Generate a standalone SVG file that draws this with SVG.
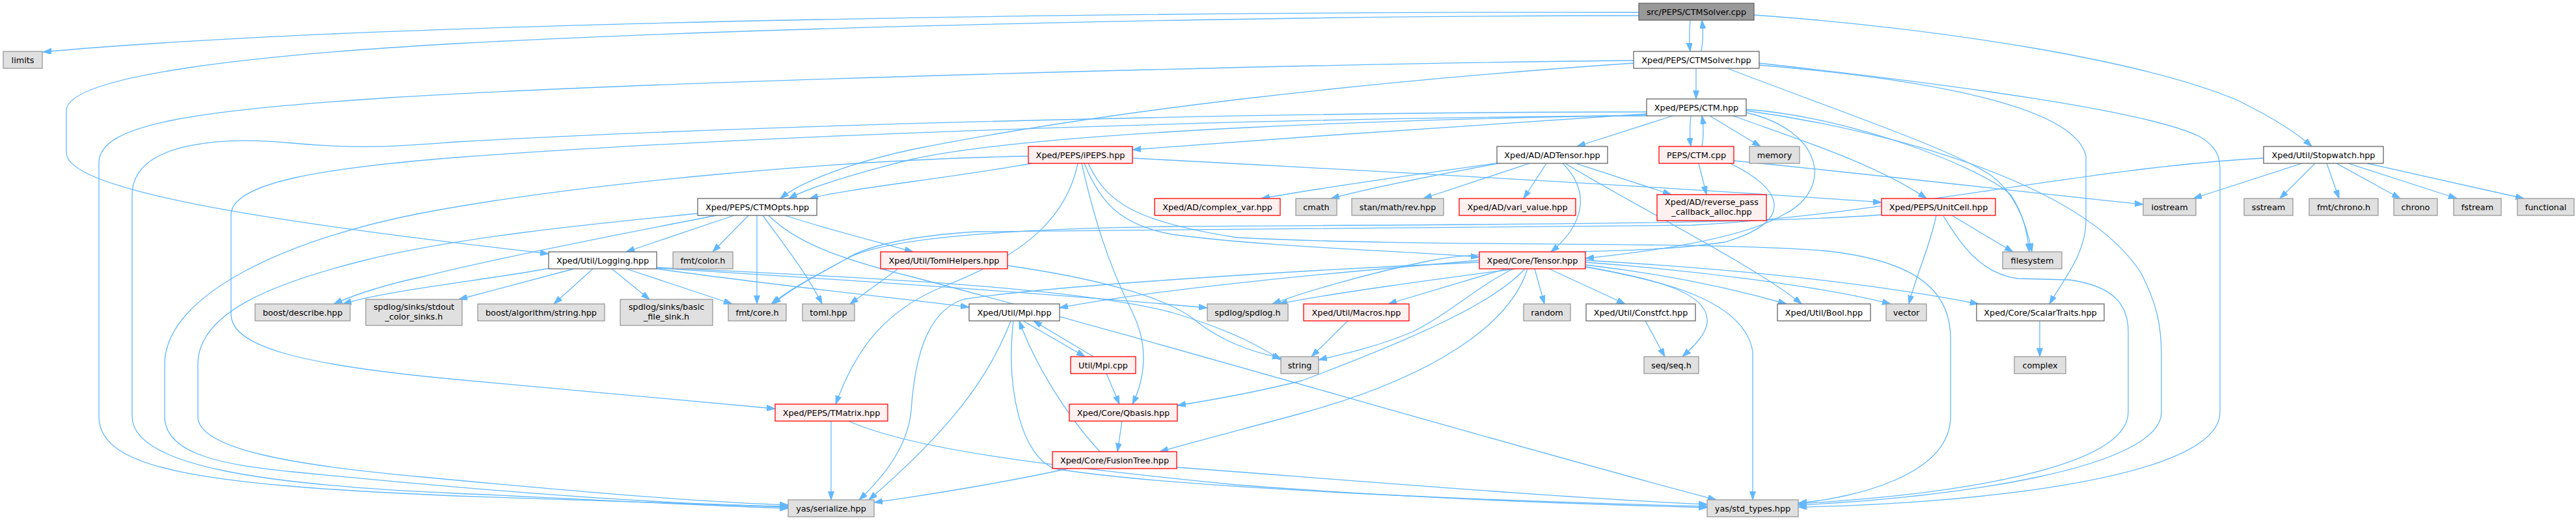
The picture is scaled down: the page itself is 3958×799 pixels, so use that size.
<svg xmlns="http://www.w3.org/2000/svg" width="3958" height="799" viewBox="0 0 3958 799">
<style>
.e{fill:none;stroke:#63b8ff;stroke-width:1.3;marker-end:url(#ah)}
.b rect{stroke-width:1.3}
.n rect{fill:#ffffff;stroke:#666666}
.c rect{fill:#999999;stroke:#666666}
.x rect{fill:#e0e0e0;stroke:#999999}
.t rect{fill:#fff0f0;stroke:#ff0000}
text{font-family:"DejaVu Sans","Liberation Sans",sans-serif;font-size:12.8px;fill:#000000;text-anchor:middle}
</style>
<defs>
<marker id="ah" markerUnits="userSpaceOnUse" markerWidth="14" markerHeight="10" refX="13" refY="4.5" orient="auto">
<path d="M0,0 L13,4.5 L0,9 z" fill="#63b8ff" stroke="#63b8ff" stroke-width="1"/>
</marker>
</defs>
<rect width="3958" height="799" fill="#ffffff"/>
<g id="edges">
<path class="e" d="M2518,19 C1900,17 600,30 66,80"/>
<path class="e" d="M2518,24 C2000,24 1200,40 700,67 C400,84 102,115 102,170 L102,235 C102,300 500,350 843,390"/>
<path class="e" d="M2597,31 C2595,50 2595,60 2597,79"/>
<path class="e" d="M2614,79 C2617,60 2617,50 2615,31"/>
<path class="e" d="M2695,23 C3000,45 3300,95 3440,155 C3490,180 3530,205 3552,225"/>
<path class="e" d="M2606,105 L2606,152"/>
<path class="e" d="M2510,97 C2100,125 1700,170 1400,230 C1300,252 1230,280 1199,305"/>
<path class="e" d="M2510,93 C2000,98 1000,125 600,150 C300,170 152,190 152,250 L152,640 C152,720 300,745 700,762 C900,770 1100,775 1211,779"/>
<path class="e" d="M2654,105 C2850,180 3000,230 3060,270 C3100,300 3115,350 3122,387"/>
<path class="e" d="M2703,100 C3000,125 3190,170 3205,240 L3205,340 C3205,390 3170,430 3149,467"/>
<path class="e" d="M2703,97 C3000,130 3300,170 3380,210 C3405,225 3411,240 3411,260 L3411,633 C3411,740 3000,775 2763,779"/>
<path class="e" d="M2570,178 L2423,225"/>
<path class="e" d="M2598,178 C2596,195 2596,210 2598,225"/>
<path class="e" d="M2615,225 C2618,208 2618,195 2615,178"/>
<path class="e" d="M2627,178 L2705,225"/>
<path class="e" d="M2530,175 C2300,190 2000,210 1740,230"/>
<path class="e" d="M2530,177 C2200,182 1600,200 1400,245 C1320,265 1250,285 1212,305"/>
<path class="e" d="M2663,178 C2750,210 2880,250 2960,305"/>
<path class="e" d="M2683,168 C2850,180 3050,260 3090,300 C3110,330 3115,360 3118,387"/>
<path class="e" d="M2683,173 C2800,200 2820,290 2740,330 C2680,365 2550,385 2436,397"/>
<path class="e" d="M2683,170 C2900,200 3200,280 3290,420 C3315,470 3321,500 3321,550 L3321,633 C3321,720 3000,765 2763,776"/>
<path class="e" d="M2530,172 C2000,172 1200,190 700,218 C620,224 560,230 450,220 C350,210 203,215 203,300 L203,640 C203,715 400,745 700,758 C900,767 1100,778 1211,781"/>
<path class="e" d="M2530,178 C2000,180 1200,205 700,242 C500,258 355,280 355,330 L355,483 C355,530 450,560 700,583 C900,602 1100,620 1191,628"/>
<path class="e" d="M2305,250 C2200,265 2050,285 1938,305"/>
<path class="e" d="M2303,251 C2200,270 2100,290 2045,305"/>
<path class="e" d="M2350,251 L2187,305"/>
<path class="e" d="M2376,251 L2341,305"/>
<path class="e" d="M2421,251 L2568,299"/>
<path class="e" d="M2401,251 C2440,290 2440,340 2383,387"/>
<path class="e" d="M2405,251 C2500,310 2700,410 2768,467"/>
<path class="e" d="M2610,251 L2622,299"/>
<path class="e" d="M2664,247 C2900,270 3150,300 3293,314"/>
<path class="e" d="M2658,251 C2740,290 2760,340 2650,372 C2500,395 2300,380 2200,400 C2100,420 2000,450 1955,467"/>
<path class="e" d="M3537,251 L3370,305"/>
<path class="e" d="M3557,251 L3503,305"/>
<path class="e" d="M3575,251 L3594,305"/>
<path class="e" d="M3590,251 L3688,305"/>
<path class="e" d="M3608,251 L3775,305"/>
<path class="e" d="M3637,251 L3878,305"/>
<path class="e" d="M3478,243 C3200,258 2900,330 2600,346 C2200,352 1800,350 1500,356 C1400,362 1330,378 1300,398 C1260,420 1222,440 1187,467"/>
<path class="e" d="M2999,331 L3093,387"/>
<path class="e" d="M2975,331 C2965,380 2945,420 2933,467"/>
<path class="e" d="M2986,332 C3010,370 3040,420 3100,428 L3180,430 C3250,440 3270,470 3270,510 L3270,633 C3270,720 3000,760 2763,774"/>
<path class="e" d="M2891,330 C2700,345 2200,345 1800,348 C1500,352 1350,370 1300,398 C1260,420 1220,440 1185,467"/>
<path class="e" d="M1580,240 C1300,245 900,280 650,327 C450,365 253,450 253,560 L253,640 C253,700 350,715 450,725 C700,750 1000,775 1211,778"/>
<path class="e" d="M1586,251 C1450,275 1300,290 1244,305"/>
<path class="e" d="M1740,243 C2100,262 2600,290 2891,311"/>
<path class="e" d="M1666,251 C1690,310 1720,345 1800,360 C1950,380 2150,385 2273,395"/>
<path class="e" d="M1672,251 C1700,310 1740,340 1900,365 C2200,380 2600,370 2800,385 C2950,400 2997,450 2997,520 L2997,640 C2997,730 2850,765 2763,773"/>
<path class="e" d="M1662,251 C1680,330 1700,400 1740,480 C1765,530 1760,580 1740,621"/>
<path class="e" d="M1656,251 C1640,330 1580,390 1450,440 C1350,480 1310,550 1284,621"/>
<path class="e" d="M1128,331 L962,387"/>
<path class="e" d="M1150,331 L1095,387"/>
<path class="e" d="M1163,331 L1163,467"/>
<path class="e" d="M1172,331 C1200,370 1240,420 1263,467"/>
<path class="e" d="M1206,331 C1280,355 1350,372 1403,387"/>
<path class="e" d="M1101,331 C950,360 750,400 650,425 C580,440 540,455 513,467"/>
<path class="e" d="M1181,331 C1220,370 1280,395 1400,425 C1800,530 2300,680 2637,768"/>
<path class="e" d="M1072,328 C900,345 700,365 560,400 C420,435 304,480 304,560 L304,640 C304,690 450,715 650,733 C850,752 1050,770 1211,776"/>
<path class="e" d="M845,412 C750,430 600,445 527,467"/>
<path class="e" d="M882,413 L705,460"/>
<path class="e" d="M911,413 L851,467"/>
<path class="e" d="M940,413 L998,460"/>
<path class="e" d="M962,413 L1125,467"/>
<path class="e" d="M1009,413 C1200,440 1400,460 1489,472"/>
<path class="e" d="M1009,412 C1300,430 1600,450 1855,473"/>
<path class="e" d="M1009,411 C1300,425 1650,440 1800,480 C1900,510 1940,535 1968,553"/>
<path class="e" d="M1380,413 L1306,467"/>
<path class="e" d="M1548,408 C1700,430 1800,460 1840,495 C1880,525 1920,540 1968,550"/>
<path class="e" d="M2314,413 L2133,467"/>
<path class="e" d="M2329,413 C2200,430 2050,450 1965,467"/>
<path class="e" d="M2325,413 C2270,440 2230,480 2170,510 C2110,535 2060,545 2026,553"/>
<path class="e" d="M2358,413 L2373,467"/>
<path class="e" d="M2380,413 L2497,467"/>
<path class="e" d="M2436,410 C2550,430 2620,450 2623,490 C2625,510 2605,530 2585,548"/>
<path class="e" d="M2436,407 C2550,420 2650,440 2745,467"/>
<path class="e" d="M2436,403 C2600,415 2800,440 2905,467"/>
<path class="e" d="M2436,400 C2700,415 2900,440 3040,467"/>
<path class="e" d="M2436,410 C2550,430 2680,460 2693,540 L2693,768"/>
<path class="e" d="M2343,413 C2300,460 2200,510 2000,585 C1920,605 1860,615 1809,623"/>
<path class="e" d="M2347,413 C2320,500 2200,580 2000,635 C1900,662 1830,680 1782,694"/>
<path class="e" d="M2273,400 C2100,415 1800,440 1628,473"/>
<path class="e" d="M2273,403 C2000,415 1600,440 1480,460 C1420,480 1405,560 1400,630 C1395,690 1350,740 1320,768"/>
<path class="e" d="M1572,493 L1667,548"/>
<path class="e" d="M1680,548 L1588,493"/>
<path class="e" d="M1553,493 C1520,580 1460,660 1335,768"/>
<path class="e" d="M1557,493 C1545,600 1570,700 1620,720 C1800,750 2300,770 2623,778"/>
<path class="e" d="M1700,574 L1720,621"/>
<path class="e" d="M1724,647 L1717,694"/>
<path class="e" d="M1690,694 C1640,640 1590,560 1566,493"/>
<path class="e" d="M1641,720 C1550,740 1430,760 1343,772"/>
<path class="e" d="M1808,718 C2100,740 2400,765 2623,775"/>
<path class="e" d="M1277,647 L1277,768"/>
<path class="e" d="M1304,647 C1400,690 1600,715 1900,745 C2200,768 2450,775 2623,780"/>
<path class="e" d="M2071,493 L2015,548"/>
<path class="e" d="M2528,493 L2558,548"/>
<path class="e" d="M3134,493 L3134,548"/>
</g>
<g id="node-ctmsolver-cpp" class="b c"><rect x="2518" y="5" width="177" height="26"/><text x="2606.5" y="22.5">src/PEPS/CTMSolver.cpp</text></g>
<g id="node-limits" class="b x"><rect x="5" y="79" width="60" height="26"/><text x="35" y="96.5">limits</text></g>
<g id="node-ctmsolver-hpp" class="b n"><rect x="2510" y="79" width="193" height="26"/><text x="2606.5" y="96.5">Xped/PEPS/CTMSolver.hpp</text></g>
<g id="node-ctm-hpp" class="b n"><rect x="2530" y="152" width="153" height="26"/><text x="2606.5" y="169.5">Xped/PEPS/CTM.hpp</text></g>
<g id="node-adtensor" class="b n"><rect x="2300" y="225" width="170" height="26"/><text x="2385" y="242.5">Xped/AD/ADTensor.hpp</text></g>
<g id="node-ipeps" class="b t"><rect x="1580" y="225" width="160" height="26"/><text x="1660" y="242.5">Xped/PEPS/iPEPS.hpp</text></g>
<g id="node-ctm-cpp" class="b t"><rect x="2549" y="225" width="115" height="26"/><text x="2606.5" y="242.5">PEPS/CTM.cpp</text></g>
<g id="node-memory" class="b x"><rect x="2688" y="225" width="77" height="26"/><text x="2726.5" y="242.5">memory</text></g>
<g id="node-stopwatch" class="b n"><rect x="3478" y="225" width="184" height="26"/><text x="3570" y="242.5">Xped/Util/Stopwatch.hpp</text></g>
<g id="node-ctmopts" class="b n"><rect x="1072" y="305" width="183" height="26"/><text x="1163.5" y="322.5">Xped/PEPS/CTMOpts.hpp</text></g>
<g id="node-complexvar" class="b t"><rect x="1774" y="305" width="193" height="26"/><text x="1870.5" y="322.5">Xped/AD/complex_var.hpp</text></g>
<g id="node-cmath" class="b x"><rect x="1991" y="305" width="63" height="26"/><text x="2022.5" y="322.5">cmath</text></g>
<g id="node-stan" class="b x"><rect x="2077" y="305" width="141" height="26"/><text x="2147.5" y="322.5">stan/math/rev.hpp</text></g>
<g id="node-varivalue" class="b t"><rect x="2242" y="305" width="179" height="26"/><text x="2331.5" y="322.5">Xped/AD/vari_value.hpp</text></g>
<g id="node-revpass" class="b t"><rect x="2546" y="299" width="168" height="40"/><text x="2630" y="315">Xped/AD/reverse_pass</text><text x="2630" y="330">_callback_alloc.hpp</text></g>
<g id="node-unitcell" class="b t"><rect x="2891" y="305" width="175" height="26"/><text x="2978.5" y="322.5">Xped/PEPS/UnitCell.hpp</text></g>
<g id="node-iostream" class="b x"><rect x="3293" y="305" width="81" height="26"/><text x="3333.5" y="322.5">iostream</text></g>
<g id="node-sstream" class="b x"><rect x="3448" y="305" width="75" height="26"/><text x="3485.5" y="322.5">sstream</text></g>
<g id="node-fmtchrono" class="b x"><rect x="3548" y="305" width="106" height="26"/><text x="3601" y="322.5">fmt/chrono.h</text></g>
<g id="node-chrono" class="b x"><rect x="3678" y="305" width="67" height="26"/><text x="3711.5" y="322.5">chrono</text></g>
<g id="node-fstream" class="b x"><rect x="3770" y="305" width="73" height="26"/><text x="3806.5" y="322.5">fstream</text></g>
<g id="node-functional" class="b x"><rect x="3868" y="305" width="87" height="26"/><text x="3911.5" y="322.5">functional</text></g>
<g id="node-logging" class="b n"><rect x="843" y="387" width="166" height="26"/><text x="926" y="404.5">Xped/Util/Logging.hpp</text></g>
<g id="node-fmtcolor" class="b x"><rect x="1034" y="387" width="92" height="26"/><text x="1080" y="404.5">fmt/color.h</text></g>
<g id="node-tomlhelpers" class="b t"><rect x="1353" y="387" width="195" height="26"/><text x="1450.5" y="404.5">Xped/Util/TomlHelpers.hpp</text></g>
<g id="node-tensor" class="b t"><rect x="2273" y="387" width="163" height="26"/><text x="2354.5" y="404.5">Xped/Core/Tensor.hpp</text></g>
<g id="node-filesystem" class="b x"><rect x="3077" y="387" width="91" height="26"/><text x="3122.5" y="404.5">filesystem</text></g>
<g id="node-describe" class="b x"><rect x="392" y="467" width="146" height="26"/><text x="465" y="484.5">boost/describe.hpp</text></g>
<g id="node-stdoutsinks" class="b x"><rect x="562" y="460" width="148" height="40"/><text x="636" y="476">spdlog/sinks/stdout</text><text x="636" y="491">_color_sinks.h</text></g>
<g id="node-algstring" class="b x"><rect x="734" y="467" width="195" height="26"/><text x="831.5" y="484.5">boost/algorithm/string.hpp</text></g>
<g id="node-basicfile" class="b x"><rect x="953" y="460" width="142" height="40"/><text x="1024" y="476">spdlog/sinks/basic</text><text x="1024" y="491">_file_sink.h</text></g>
<g id="node-fmtcore" class="b x"><rect x="1119" y="467" width="89" height="26"/><text x="1163.5" y="484.5">fmt/core.h</text></g>
<g id="node-tomlhpp" class="b x"><rect x="1233" y="467" width="80" height="26"/><text x="1273" y="484.5">toml.hpp</text></g>
<g id="node-mpihpp" class="b n"><rect x="1489" y="467" width="139" height="26"/><text x="1558.5" y="484.5">Xped/Util/Mpi.hpp</text></g>
<g id="node-spdlog" class="b x"><rect x="1855" y="467" width="124" height="26"/><text x="1917" y="484.5">spdlog/spdlog.h</text></g>
<g id="node-macros" class="b t"><rect x="2003" y="467" width="162" height="26"/><text x="2084" y="484.5">Xped/Util/Macros.hpp</text></g>
<g id="node-random" class="b x"><rect x="2341" y="467" width="72" height="26"/><text x="2377" y="484.5">random</text></g>
<g id="node-constfct" class="b n"><rect x="2437" y="467" width="168" height="26"/><text x="2521" y="484.5">Xped/Util/Constfct.hpp</text></g>
<g id="node-bool" class="b n"><rect x="2731" y="467" width="143" height="26"/><text x="2802.5" y="484.5">Xped/Util/Bool.hpp</text></g>
<g id="node-vector" class="b x"><rect x="2898" y="467" width="62" height="26"/><text x="2929" y="484.5">vector</text></g>
<g id="node-scalartraits" class="b n"><rect x="3037" y="467" width="196" height="26"/><text x="3135" y="484.5">Xped/Core/ScalarTraits.hpp</text></g>
<g id="node-mpicpp" class="b t"><rect x="1645" y="548" width="100" height="26"/><text x="1695" y="565.5">Util/Mpi.cpp</text></g>
<g id="node-string" class="b x"><rect x="1968" y="548" width="58" height="26"/><text x="1997" y="565.5">string</text></g>
<g id="node-seq" class="b x"><rect x="2526" y="548" width="84" height="26"/><text x="2568" y="565.5">seq/seq.h</text></g>
<g id="node-complex" class="b x"><rect x="3095" y="548" width="79" height="26"/><text x="3134.5" y="565.5">complex</text></g>
<g id="node-tmatrix" class="b t"><rect x="1191" y="621" width="173" height="26"/><text x="1277.5" y="638.5">Xped/PEPS/TMatrix.hpp</text></g>
<g id="node-qbasis" class="b t"><rect x="1643" y="621" width="166" height="26"/><text x="1726" y="638.5">Xped/Core/Qbasis.hpp</text></g>
<g id="node-fusiontree" class="b t"><rect x="1617" y="694" width="191" height="26"/><text x="1712.5" y="711.5">Xped/Core/FusionTree.hpp</text></g>
<g id="node-serialize" class="b x"><rect x="1211" y="768" width="132" height="26"/><text x="1277" y="785.5">yas/serialize.hpp</text></g>
<g id="node-stdtypes" class="b x"><rect x="2623" y="768" width="140" height="26"/><text x="2693" y="785.5">yas/std_types.hpp</text></g>
</svg>
